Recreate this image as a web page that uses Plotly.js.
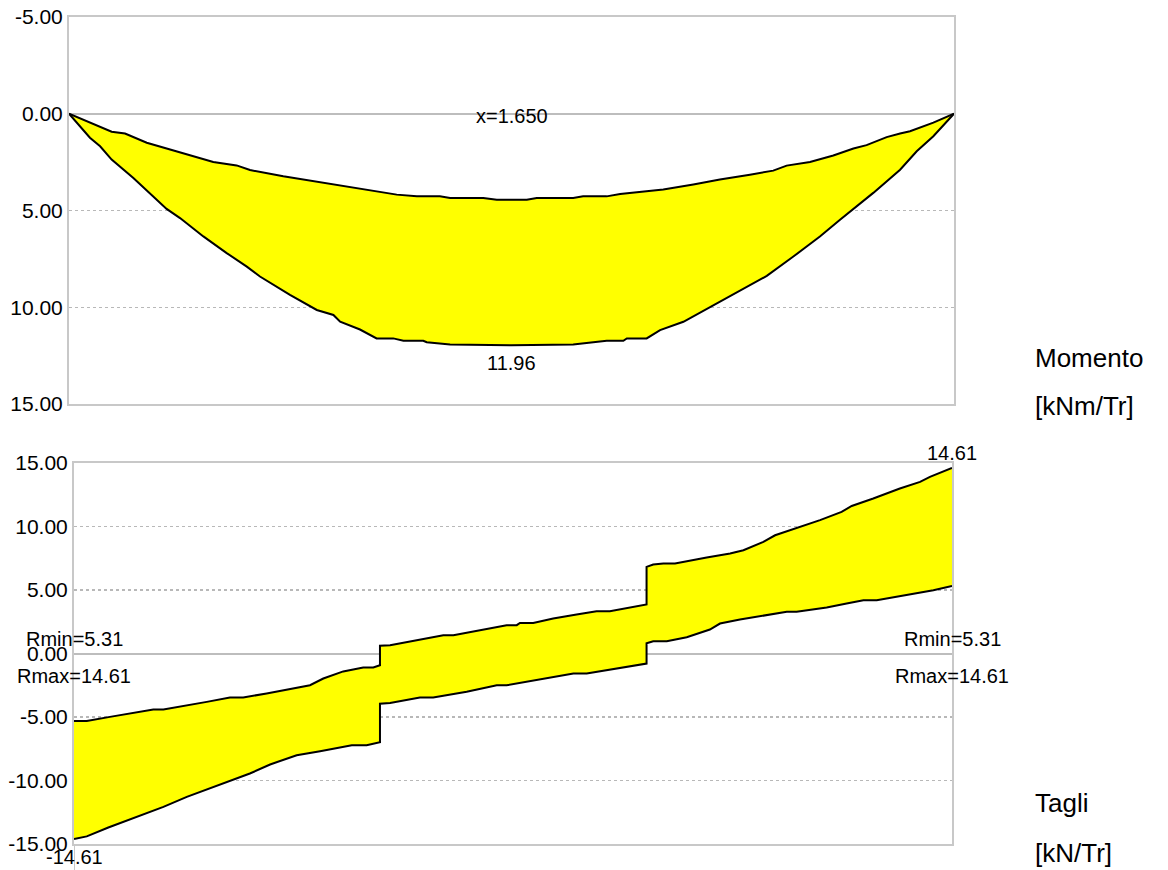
<!DOCTYPE html>
<html>
<head>
<meta charset="utf-8">
<script src="https://cdn.plot.ly/plotly-3.0.1.min.js"></script>
<style>
  html, body { margin: 0; padding: 0; background: #ffffff; }
  #chart { width: 1168px; height: 870px; }
</style>
</head>
<body>
<div id="chart"></div>
<script>
// Bending moment envelope [kNm/Tr] along the beam (x in m, positive values drawn downward)
const xMmin = [0, 0.078, 0.159, 0.209, 0.290, 0.377, 0.458, 0.538, 0.625, 0.675, 0.799, 0.924, 1.085, 1.147, 1.222, 1.297, 1.383, 1.421, 1.545, 1.595, 1.707, 1.744, 1.880, 1.917, 2.005, 2.055, 2.166, 2.216, 2.328, 2.427, 2.539, 2.626, 2.676, 2.763, 2.850, 2.925, 2.974, 3.049, 3.099, 3.136, 3.223, 3.300];
const Mmin = [0, 0.46, 0.93, 1.02, 1.50, 1.85, 2.16, 2.49, 2.67, 2.91, 3.23, 3.52, 3.90, 4.02, 4.18, 4.27, 4.27, 4.35, 4.35, 4.44, 4.44, 4.35, 4.35, 4.27, 4.27, 4.15, 4.00, 3.92, 3.66, 3.40, 3.15, 2.94, 2.68, 2.49, 2.16, 1.80, 1.62, 1.21, 1.02, 0.90, 0.46, 0];

const xMmax = [0, 0.078, 0.116, 0.159, 0.240, 0.290, 0.364, 0.414, 0.501, 0.588, 0.663, 0.712, 0.824, 0.924, 0.986, 1.011, 1.085, 1.147, 1.209, 1.247, 1.321, 1.334, 1.421, 1.650, 1.880, 1.955, 2.005, 2.067, 2.080, 2.154, 2.204, 2.291, 2.390, 2.490, 2.602, 2.701, 2.800, 2.875, 2.925, 2.999, 3.099, 3.161, 3.223, 3.300];
const Mmax = [0, 1.24, 1.68, 2.37, 3.32, 3.96, 4.92, 5.39, 6.34, 7.20, 7.90, 8.41, 9.36, 10.14, 10.40, 10.75, 11.15, 11.61, 11.61, 11.73, 11.73, 11.81, 11.92, 11.96, 11.92, 11.81, 11.73, 11.73, 11.61, 11.61, 11.18, 10.75, 10.00, 9.27, 8.38, 7.38, 6.34, 5.48, 4.92, 4.09, 2.89, 1.94, 1.16, 0];

// Shear envelope [kN/Tr]
const xVmax = [0, 0.048, 0.135, 0.223, 0.298, 0.336, 0.424, 0.499, 0.586, 0.636, 0.724, 0.799, 0.849, 0.887, 0.937, 1.012, 1.087, 1.125, 1.150, 1.150, 1.188, 1.288, 1.388, 1.426, 1.526, 1.626, 1.664, 1.676, 1.726, 1.801, 1.889, 1.964, 2.014, 2.102, 2.152, 2.152, 2.177, 2.215, 2.259, 2.378, 2.466, 2.516, 2.591, 2.635, 2.729, 2.804, 2.885, 2.923, 3.004, 3.104, 3.180, 3.217, 3.300];
const Vmax = [-5.31, -5.31, -4.99, -4.68, -4.41, -4.41, -4.10, -3.81, -3.46, -3.46, -3.15, -2.83, -2.63, -2.50, -1.97, -1.41, -1.10, -1.10, -0.92, 0.62, 0.65, 1.05, 1.44, 1.44, 1.83, 2.23, 2.23, 2.41, 2.41, 2.76, 3.07, 3.33, 3.33, 3.67, 3.86, 6.82, 7.01, 7.09, 7.09, 7.56, 7.87, 8.13, 8.79, 9.31, 9.97, 10.50, 11.15, 11.62, 12.20, 12.99, 13.51, 13.91, 14.61];

const xVmin = [0, 0.048, 0.129, 0.223, 0.336, 0.424, 0.499, 0.599, 0.661, 0.737, 0.837, 0.925, 0.975, 1.044, 1.100, 1.150, 1.150, 1.188, 1.300, 1.350, 1.476, 1.589, 1.626, 1.664, 1.777, 1.877, 1.927, 2.027, 2.152, 2.152, 2.177, 2.228, 2.303, 2.390, 2.428, 2.503, 2.603, 2.679, 2.716, 2.829, 2.904, 2.967, 3.017, 3.130, 3.230, 3.300];
const Vmin = [-14.61, -14.40, -13.70, -12.99, -12.08, -11.29, -10.71, -9.92, -9.45, -8.74, -8.01, -7.69, -7.48, -7.22, -7.22, -6.98, -3.96, -3.89, -3.46, -3.46, -3.02, -2.50, -2.50, -2.36, -1.97, -1.57, -1.57, -1.24, -0.79, 0.81, 0.97, 0.97, 1.28, 1.89, 2.36, 2.68, 3.02, 3.28, 3.28, 3.62, 3.94, 4.20, 4.20, 4.59, 4.98, 5.31];

// Axis tick labels
const momentTickVals = [-5, 0, 5, 10, 15];
const momentTickText = ['-5.00', '0.00', '5.00', '10.00', '15.00'];
const shearTickVals = [15, 10, 5, 0, -5, -10, -15];
const shearTickText = ['15.00', '10.00', '5.00', '0.00', '-5.00', '-10.00', '-15.00'];

// Side captions
const momentCaption = ['Momento', '[kNm/Tr]'];
const shearCaption = ['Tagli', '[kN/Tr]'];

const W = 1168, H = 870;
const FONT = 'Liberation Sans, Arial, Helvetica, sans-serif';
const GRID = '#b8b8b8';
const FRAME = '#c8c8c8';

function band(xa, ya, xb, yb, xax, yax) {
  return {
    x: xa.concat(xb.slice().reverse()),
    y: ya.concat(yb.slice().reverse()),
    xaxis: xax, yaxis: yax,
    mode: 'lines', fill: 'toself', fillcolor: '#ffff00',
    line: { width: 0 }, hoverinfo: 'skip'
  };
}
function edge(x, y, xax, yax) {
  return { x: x, y: y, xaxis: xax, yaxis: yax, mode: 'lines',
           line: { color: '#000000', width: 2 }, hoverinfo: 'skip' };
}

const traces = [
  band(xMmin, Mmin, xMmax, Mmax, 'x', 'y'),
  edge(xMmin, Mmin, 'x', 'y'),
  edge(xMmax, Mmax, 'x', 'y'),
  band(xVmax, Vmax, xVmin, Vmin, 'x2', 'y2'),
  edge(xVmax, Vmax, 'x2', 'y2'),
  edge(xVmin, Vmin, 'x2', 'y2')
];

// Annotated values taken from the plotted data
const L = xVmax[xVmax.length - 1];
const mPeak = Math.max.apply(null, Mmax);
const xPeak = xMmax[Mmax.indexOf(mPeak)];
const vTop = Math.max.apply(null, Vmax);
const vBot = Math.min.apply(null, Vmin);
const leftRmin = Math.abs(Vmax[0]);
const leftRmax = Math.abs(Vmin[0]);
const rightRmin = Math.abs(Vmin[Vmin.length - 1]);
const rightRmax = Math.abs(Vmax[Vmax.length - 1]);

const lblFont = { family: FONT, size: 20, color: '#000000' };
function note(text, x, y, xref, yref, yshift) {
  return { text: text, x: x, y: y, xref: xref, yref: yref, yshift: yshift,
           showarrow: false, xanchor: 'center', yanchor: 'middle', font: lblFont };
}
const capFont = { family: FONT, size: 26, color: '#000000' };
function caption(text, ypx) {
  return { text: text, xref: 'paper', yref: 'paper', x: 1033 / W, y: 1 - ypx / H,
           xanchor: 'left', yanchor: 'middle', showarrow: false, font: capFont };
}

const annotations = [
  note('x=' + xPeak.toFixed(3), xPeak, 0, 'x', 'y', -2),
  note(mPeak.toFixed(2), xPeak, mPeak, 'x', 'y', -18),
  note('Rmin=' + leftRmin.toFixed(2), 0, 0, 'x2', 'y2', 15),
  note('Rmax=' + leftRmax.toFixed(2), 0, 0, 'x2', 'y2', -22),
  note('Rmin=' + rightRmin.toFixed(2), L, 0, 'x2', 'y2', 15),
  note('Rmax=' + rightRmax.toFixed(2), L, 0, 'x2', 'y2', -22),
  note(vTop.toFixed(2), L, vTop, 'x2', 'y2', 15),
  note(vBot.toFixed(2), 0, vBot, 'x2', 'y2', -18),
  caption(momentCaption[0], 358),
  caption(momentCaption[1], 406),
  caption(shearCaption[0], 803),
  caption(shearCaption[1], 853)
];

const xCommon = {
  range: [0, L], showgrid: false, zeroline: false, showticklabels: false,
  ticks: '', showline: true, mirror: true, linecolor: FRAME, linewidth: 2, fixedrange: true
};
const yCommon = {
  tickmode: 'array', ticks: '', ticklabelstandoff: 0,
  tickfont: { family: FONT, size: 21, color: '#000000' },
  showgrid: true, gridcolor: GRID, griddash: 'dot', gridwidth: 1.5,
  zeroline: true, zerolinecolor: '#bdbdbd', zerolinewidth: 2,
  showline: true, mirror: true, linecolor: FRAME, linewidth: 2, fixedrange: true
};

const layout = {
  width: W, height: H,
  margin: { l: 0, r: 0, t: 0, b: 0 },
  paper_bgcolor: '#ffffff', plot_bgcolor: '#ffffff',
  showlegend: false,
  xaxis: Object.assign({}, xCommon, { domain: [69 / W, 954 / W], anchor: 'y' }),
  yaxis: Object.assign({}, yCommon, {
    domain: [1 - 404 / H, 1 - 17 / H], anchor: 'x', range: [15, -5],
    tickvals: momentTickVals, ticktext: momentTickText
  }),
  xaxis2: Object.assign({}, xCommon, { domain: [74 / W, 952 / W], anchor: 'y2' }),
  yaxis2: Object.assign({}, yCommon, {
    domain: [1 - 844 / H, 1 - 463 / H], anchor: 'x2', range: [-15, 15],
    tickvals: shearTickVals, ticktext: shearTickText
  }),
  shapes: [
    { type: 'line', xref: 'x2', yref: 'paper', x0: 0, x1: 0, y0: 0, y1: 1 - 844 / H,
      line: { color: FRAME, width: 2 } }
  ],
  annotations: annotations
};

Plotly.newPlot('chart', traces, layout, { staticPlot: true, displayModeBar: false });
</script>
</body>
</html>
